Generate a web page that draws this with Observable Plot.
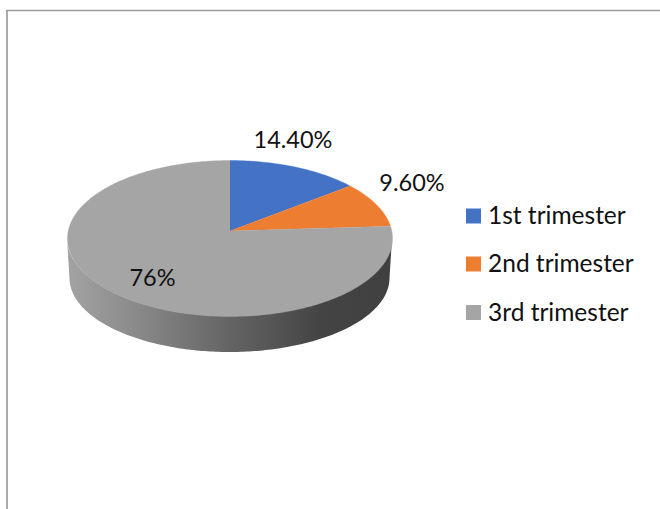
<!DOCTYPE html>
<html>
<head>
<meta charset="utf-8">
<script src="https://cdn.jsdelivr.net/npm/d3@7"></script>
<script src="https://cdn.jsdelivr.net/npm/@observablehq/plot@0.6"></script>
<style>html,body{margin:0;padding:0;background:#fff}svg{display:block}</style>
</head>
<body>
<div id="chart"></div>
<script>
// Data
const trimesters = ["1st trimester", "2nd trimester", "3rd trimester"];
const shares = [14.4, 9.6, 76];
const shareLabels = ["14.40%", "9.60%", "76%"];

// Layout and style, in page pixels
const colors = ["#4472C4", "#ED7D31", "#A5A5A5"];
const labelPos = [[292.5, 147], [411.5, 190], [152, 285]];
const legendY = [216, 264, 312.5];
const face = {cx: 229.5, cy: 238, rx: 162.5, ry: 78, apexY: 230.5};
const base = {cx: 229.5, cy: 278, rx: 160, ry: 74};
const fontStack = "Lato, Carlito, sans-serif";

// Perspective: the pie's centre sits above the ellipse's centre
const c = (face.cy - face.apexY) / face.ry;
const k = Math.sqrt((1 - c) / (1 + c));
const warp = t => 2 * Math.atan(k * Math.tan(t / 2));
const rim = (e, phi) => [e.cx + e.rx * Math.sin(phi), e.cy - e.ry * Math.cos(phi)];

// Slices from the values
const arcs = d3.pie().sort(null).value(d => d)(shares);
const slices = arcs.flatMap((a, i) => {
  const n = Math.max(2, Math.ceil((a.endAngle - a.startAngle) * 60));
  const pts = [{name: trimesters[i], x: face.cx, y: face.apexY}];
  for (let j = 0; j <= n; j++) {
    const [x, y] = rim(face, warp(a.startAngle + (a.endAngle - a.startAngle) * j / n));
    pts.push({name: trimesters[i], x, y});
  }
  return pts;
});

// Side wall: lower half of the rim
const wall = d3.range(90, 270.5, 1).map(deg => {
  const phi = deg * Math.PI / 180;
  const [x1, y1] = rim(face, phi);
  const [x2, y2] = rim(base, phi);
  return {x1, y1, x2, y2};
});

const labels = shareLabels.map((t, i) => ({t, x: labelPos[i][0], y: labelPos[i][1]}));
const legend = trimesters.map((name, i) => ({name, y: legendY[i]}));

const gradient = () => {
  const defs = d3.create("svg:defs");
  const g = defs.append("linearGradient").attr("id", "wallShade");
  [[0, "#a3a3a3"], [0.25, "#858585"], [0.5, "#646464"], [0.78, "#444444"], [1, "#404040"]]
    .forEach(([o, s]) => g.append("stop").attr("offset", o).attr("stop-color", s));
  return defs.node();
};

const chart = Plot.plot({
  width: 660,
  height: 509,
  margin: 0,
  style: {background: "#fff", fontFamily: fontStack},
  x: {domain: [0, 660], range: [0, 660], axis: null},
  y: {domain: [0, 509], range: [0, 509], axis: null},
  color: {domain: trimesters, range: colors},
  marks: [
    gradient,
    Plot.ruleX([6.5], {y1: 10, y2: 509, stroke: "#ababab", strokeWidth: 2}),
    Plot.ruleY([10], {x1: 6, x2: 660, stroke: "#9a9a9a", strokeWidth: 1.3}),
    Plot.area(wall, {x1: "x1", y1: "y1", x2: "x2", y2: "y2", fill: "url(#wallShade)"}),
    Plot.line(slices, {x: "x", y: "y", z: "name", fill: "name", stroke: "name", strokeWidth: 0.4, curve: "linear"}),
    Plot.text(labels, {x: "x", y: "y", text: "t", fontSize: 23.5, fill: "#111", textAnchor: "middle", lineAnchor: "bottom"}),
    Plot.rect(legend, {x1: () => 466, x2: () => 481, y1: d => d.y - 7.5, y2: d => d.y + 7.5, fill: "name"}),
    Plot.text(legend, {x: () => 487.5, y: d => d.y + 7.5, text: "name", fontSize: 24.5, fill: "#111", textAnchor: "start", lineAnchor: "bottom"})
  ]
});
document.getElementById("chart").append(chart);
</script>
</body>
</html>
